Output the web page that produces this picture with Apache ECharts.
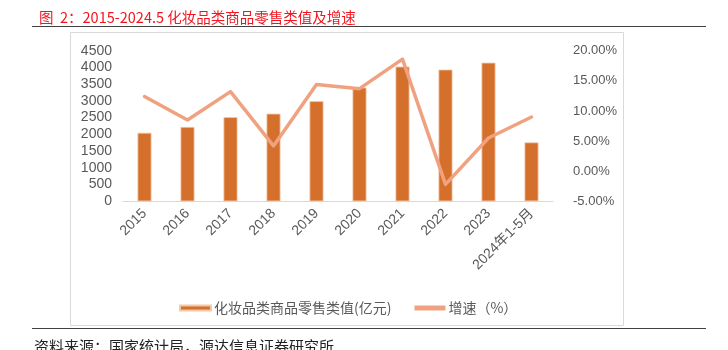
<!DOCTYPE html>
<html>
<head>
<meta charset="utf-8">
<script src="https://cdn.jsdelivr.net/npm/echarts@6/dist/echarts.min.js"></script>
<style>html,body{margin:0;padding:0;background:#fff}#c{width:728px;height:350px}</style>
</head>
<body>
<div id="c"></div>
<script>
const categories = ['2015','2016','2017','2018','2019','2020','2021','2022','2023','2024年1-5月'];
const retailValues = [2049, 2222, 2514, 2619, 2992, 3400, 4026, 3936, 4142, 1760];
const growthRates = [12.4, 8.5, 13.2, 4.2, 14.4, 13.7, 18.6, -2.2, 5.5, 9.0];
const leftTicks = {min: 0, max: 4500, interval: 500};
const rightTicks = {min: -5, max: 20, interval: 5};
const seriesNames = ['化妆品类商品零售类值(亿元)', '增速（%）'];

const FONT = '"Liberation Sans", "Noto Sans CJK SC", sans-serif';
const chart = echarts.init(document.getElementById('c'), null, {renderer: 'canvas'});
chart.setOption({
  animation: false,
  backgroundColor: '#fff',
  title: {
    text: '图  2：2015-2024.5 化妆品类商品零售类值及增速',
    left: 34, top: 5,
    textStyle: {color: '#F5141E', fontSize: 14.5, fontWeight: 'normal', fontFamily: '"Noto Sans CJK SC", sans-serif'}
  },
  graphic: [
    {type: 'line', shape: {x1: 32, y1: 26.5, x2: 706, y2: 26.5}, style: {stroke: '#404040', lineWidth: 1.2}},
    {type: 'rect', shape: {x: 70.5, y: 32.5, width: 553, height: 293}, style: {fill: 'none', stroke: '#D9D9D9', lineWidth: 1}},
    {type: 'line', shape: {x1: 32, y1: 328.5, x2: 706, y2: 328.5}, style: {stroke: '#404040', lineWidth: 1.2}},
    {type: 'text', left: 34, top: 339, style: {text: '资料来源：国家统计局，源达信息证券研究所', fill: '#222', font: '15px "Noto Sans CJK SC", sans-serif'}}
  ],
  legend: {
    left: 174, top: 296,
    itemWidth: 31, itemHeight: 5, itemGap: 23,
    textStyle: {color: '#595959', fontSize: 14, fontFamily: '"Noto Sans CJK SC", sans-serif', padding: [0, 0, 0, -2]},
    data: [{name: seriesNames[0], icon: 'rect'}, {name: seriesNames[1], icon: 'rect'}]
  },
  grid: {left: 123, right: 175, top: 50.7, bottom: 148.7},
  xAxis: {
    type: 'category',
    data: categories,
    axisLine: {lineStyle: {color: '#D9D9D9', width: 1}},
    axisTick: {show: false},
    axisLabel: {rotate: 45, color: '#595959', fontSize: 14, fontFamily: FONT, interval: 0, margin: 10}
  },
  yAxis: [
    {
      type: 'value', min: leftTicks.min, max: leftTicks.max, interval: leftTicks.interval,
      splitLine: {show: false}, axisLine: {show: false}, axisTick: {show: false},
      axisLabel: {color: '#595959', fontSize: 14, fontFamily: FONT, margin: 11, formatter: v => String(v)}
    },
    {
      type: 'value', min: rightTicks.min, max: rightTicks.max, interval: rightTicks.interval,
      splitLine: {show: false}, axisLine: {show: false}, axisTick: {show: false},
      axisLabel: {color: '#595959', fontSize: 13, fontFamily: FONT, margin: 20,
        formatter: v => v.toFixed(2) + '%'}
    }
  ],
  series: [
    {
      name: seriesNames[0], type: 'bar', data: retailValues, barWidth: 14,
      itemStyle: {color: '#D4702B', borderColor: '#F3C8A8', borderWidth: 0.8}
    },
    {
      name: seriesNames[1], type: 'line', yAxisIndex: 1, data: growthRates,
      symbol: 'none', lineStyle: {color: '#F0A280', width: 3.5, cap: 'round', join: 'round'},
      itemStyle: {color: '#F0A280'}
    }
  ]
});
</script>
</body>
</html>
